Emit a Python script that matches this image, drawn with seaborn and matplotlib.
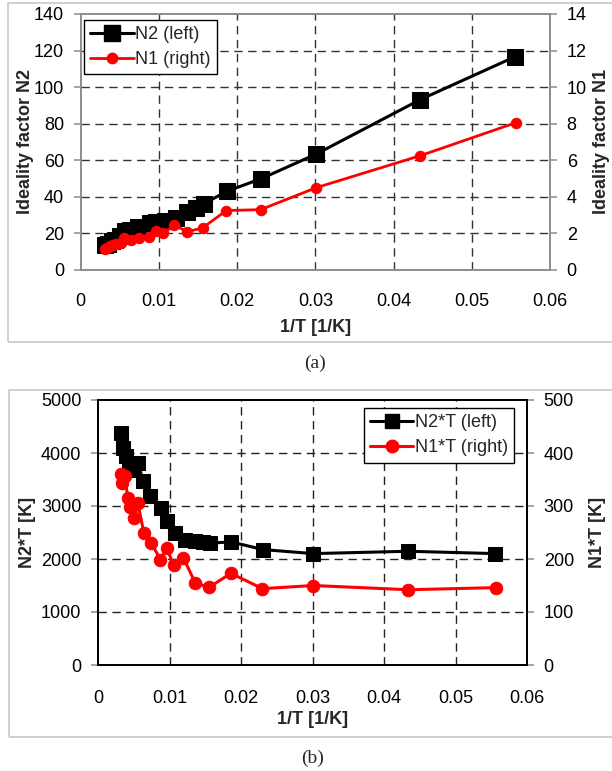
import matplotlib
matplotlib.use("Agg")
import matplotlib.pyplot as plt
from matplotlib.patches import Rectangle
from matplotlib.lines import Line2D
import seaborn as sns
import numpy as np

# ---------------- data ----------------
# 1/T values [1/K]
x_n2 = [0.00317, 0.0035, 0.00397, 0.0044, 0.0050, 0.0056, 0.0063, 0.00733,
        0.00887, 0.00966, 0.01074, 0.01214, 0.01354, 0.0147, 0.01573,
        0.01867, 0.02311, 0.03011, 0.04342, 0.05556]
x_n1 = [0.00316, 0.0034, 0.00372, 0.00419, 0.0045, 0.0051, 0.00558, 0.00642,
        0.00744, 0.00874, 0.00963, 0.01056, 0.01195, 0.01363, 0.01558,
        0.0186, 0.0230, 0.0301, 0.0434, 0.0556]

# (a) ideality factors
n2_vals = [13.9, 14.3, 15.6, 16.4, 18.4, 21.4, 21.8, 23.4, 25.8, 26.2, 26.8,
           28.5, 31.6, 34.0, 36.2, 43.0, 50.0, 63.4, 93.2, 116.7]
n1_vals = [1.15, 1.2, 1.3, 1.35, 1.4, 1.45, 1.75, 1.65, 1.75, 1.8, 2.15, 2.0,
           2.45, 2.1, 2.3, 3.25, 3.3, 4.5, 6.25, 8.05]

# (b) N*T
n2t_vals = [4385, 4090, 3934, 3720, 3683, 3820, 3463, 3193, 2961, 2710, 2491,
            2353, 2334, 2321, 2302, 2321, 2177, 2102, 2146, 2102]
n1t_vals = [360, 343, 356, 315, 299, 277, 305, 249, 230, 199, 221, 188, 202,
            154, 147, 173, 144, 150, 142, 146]

x_ticks = [0, 0.01, 0.02, 0.03, 0.04, 0.05, 0.06]
x_ticklabels = ["0", "0.01", "0.02", "0.03", "0.04", "0.05", "0.06"]

# ---------------- style ----------------
sns.set_theme(style="white")
plt.rcParams['font.family'] = ['Liberation Sans', 'DejaVu Sans']

W, H = 612, 771
fig = plt.figure(figsize=(W / 100, H / 100), dpi=100)

def fx(px):
    return px / W

def fy(py):
    return 1 - py / H

# outer light gray frames
fig.patches.append(Rectangle((fx(8), fy(342)), fx(620 - 8), (342 - 3) / H,
                             transform=fig.transFigure, fill=False,
                             edgecolor="#c8c8c8", lw=1.2))
fig.patches.append(Rectangle((fx(9), fy(737)), fx(620 - 9), (737 - 390) / H,
                             transform=fig.transFigure, fill=False,
                             edgecolor="#c8c8c8", lw=1.2))

dash = (0, (6, 4))
FS = 13

# ================= (a) =================
axA = fig.add_axes([fx(80.7), fy(270), fx(550 - 80.7), (270 - 14) / H])
axA2 = axA.twinx()

sns.lineplot(x=x_n2, y=n2_vals, ax=axA, color="black", lw=2.2, marker="s",
             markersize=11, markeredgecolor="black", sort=False,
             estimator=None, label="N2 (left)", legend=False)
sns.lineplot(x=x_n1, y=n1_vals, ax=axA2, color="#ff0000", lw=2.0, marker="o",
             markersize=7.5, markeredgecolor="#ff0000", sort=False,
             estimator=None, label="N1 (right)", legend=False)

axA.set_xlim(0, 0.06)
axA.set_ylim(0, 140)
axA2.set_ylim(0, 14)
axA.set_xticks(x_ticks)
axA.set_xticklabels(x_ticklabels)
axA.set_yticks(range(0, 141, 20))
axA2.set_yticks(range(0, 15, 2))

gray = "#8c8c8c"
for ax in (axA, axA2):
    for s in ax.spines.values():
        s.set_color(gray)
        s.set_linewidth(1.2)
axA.grid(False)
axA2.grid(False)
for v in [0.01, 0.02, 0.03, 0.04, 0.05]:
    axA.axvline(v, color="#333333", lw=1.0, ls=dash, zorder=0)
for v in range(20, 140, 20):
    axA.axhline(v, color="#333333", lw=1.0, ls=dash, zorder=0)

axA.tick_params(axis="x", direction="inout", length=9, width=1.1, color=gray,
                pad=12, labelsize=FS, labelcolor="black")
axA.tick_params(axis="y", direction="out", length=5, width=1.1, color=gray,
                pad=7, labelsize=FS, labelcolor="black")
axA2.tick_params(axis="y", direction="out", length=5, width=1.1, color=gray,
                 pad=7, labelsize=FS, labelcolor="black")

axA.set_xlabel("1/T [1/K]", fontsize=FS, fontweight="bold")
axA.xaxis.set_label_coords(0.5, (270 - 327) / 256)
axA.xaxis.label.set_va("center")
axA.set_ylabel("Ideality factor N2", fontsize=FS, fontweight="bold")
axA.yaxis.set_label_coords((25 - 80.7) / 469.3, 0.5)
axA.yaxis.label.set_va("center")
axA2.set_ylabel("Ideality factor N1", fontsize=FS, fontweight="bold")
axA2.yaxis.set_label_coords((602 - 80.7) / 469.3, 0.5)
axA2.yaxis.label.set_va("center")

hA = [Line2D([], [], color="black", lw=2.2, marker="s", markersize=11),
      Line2D([], [], color="#ff0000", lw=2.0, marker="o", markersize=7.5)]
legA = axA2.legend(hA, ["N2 (left)", "N1 (right)"], loc="upper left",
                   bbox_to_anchor=(0.003, 0.985), fontsize=FS, frameon=True,
                   fancybox=False, edgecolor="black", framealpha=1,
                   handlelength=2.4, handletextpad=0.1, borderpad=0.35,
                   labelspacing=0.45, borderaxespad=0.1)
legA.get_frame().set_linewidth(1.0)

# ================= (b) =================
axB = fig.add_axes([fx(98), fy(665), fx(527 - 98), (665 - 400) / H])
axB2 = axB.twinx()

sns.lineplot(x=x_n2, y=n2t_vals, ax=axB, color="black", lw=2.2, marker="s",
             markersize=10.5, markeredgecolor="black", sort=False,
             estimator=None, legend=False)
sns.lineplot(x=x_n1, y=n1t_vals, ax=axB2, color="#ff0000", lw=2.2, marker="o",
             markersize=9, markeredgecolor="#ff0000", sort=False,
             estimator=None, legend=False)

axB.set_xlim(0, 0.06)
axB.set_ylim(0, 5000)
axB2.set_ylim(0, 500)
axB.set_xticks(x_ticks)
axB.set_xticklabels(x_ticklabels)
axB.set_yticks(range(0, 5001, 1000))
axB2.set_yticks(range(0, 501, 100))
for ax in (axB, axB2):
    for s in ax.spines.values():
        s.set_color("black")
        s.set_linewidth(1.4)
axB.grid(False)
axB2.grid(False)
for v in [0.01, 0.02, 0.03, 0.04, 0.05]:
    axB.axvline(v, color="#222222", lw=1.0, ls=dash, zorder=0)
for v in range(1000, 5000, 1000):
    axB.axhline(v, color="#222222", lw=1.0, ls=dash, zorder=0)

axB.tick_params(axis="x", direction="out", length=5, width=1.1, color=gray,
                pad=13, labelsize=FS, labelcolor="black")
axB.tick_params(axis="y", direction="out", length=5, width=1.1, color=gray,
                pad=7, labelsize=FS, labelcolor="black")
axB2.tick_params(axis="y", direction="out", length=5, width=1.1, color=gray,
                 pad=7, labelsize=FS, labelcolor="black")

axB.set_xlabel("1/T [1/K]", fontsize=FS, fontweight="bold")
axB.xaxis.set_label_coords(0.5, (665 - 720) / 265)
axB.xaxis.label.set_va("center")
axB.set_ylabel("N2*T [K]", fontsize=FS, fontweight="bold")
axB.yaxis.set_label_coords((28 - 98) / 429, 0.5)
axB.yaxis.label.set_va("center")
axB2.set_ylabel("N1*T [K]", fontsize=FS, fontweight="bold")
axB2.yaxis.set_label_coords((598 - 98) / 429, 0.5)
axB2.yaxis.label.set_va("center")

hB = [Line2D([], [], color="black", lw=2.2, marker="s", markersize=10.5),
      Line2D([], [], color="#ff0000", lw=2.2, marker="o", markersize=9)]
legB = axB2.legend(hB, ["N2*T (left)", "N1*T (right)"], loc="upper right",
                   bbox_to_anchor=(0.975, 0.977), fontsize=FS, frameon=True,
                   fancybox=False, edgecolor="black", framealpha=1,
                   handlelength=2.4, handletextpad=0.1, borderpad=0.35,
                   labelspacing=0.45, borderaxespad=0.1)
legB.get_frame().set_linewidth(1.0)

# captions
fig.text(fx(315), fy(363), "(a)", ha="center", va="center", fontsize=14,
         family=["Liberation Serif", "DejaVu Serif"])
fig.text(fx(313), fy(758), "(b)", ha="center", va="center", fontsize=14,
         family=["Liberation Serif", "DejaVu Serif"])

fig.savefig("out.png", dpi=100)
